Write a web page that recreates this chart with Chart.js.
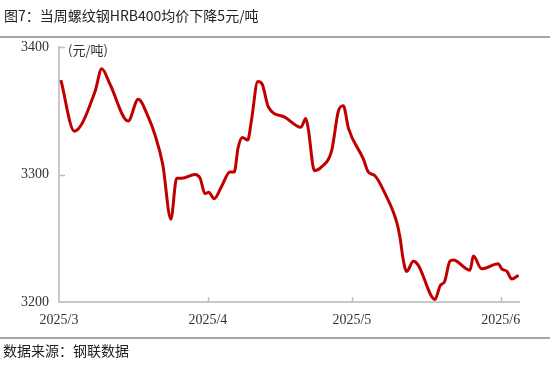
<!DOCTYPE html>
<html>
<head>
<meta charset="utf-8">
<script src="https://cdn.jsdelivr.net/npm/chart.js@4/dist/chart.umd.min.js"></script>
<style>
  html, body { margin: 0; padding: 0; background: #fff; }
  #wrap { position: relative; width: 550px; height: 367px; overflow: hidden; }
  #title { position: absolute; left: 4px; top: 6px; font: 14px "Noto Sans CJK SC", sans-serif; color: #222; line-height: 18px; white-space: nowrap; }
  .rule { position: absolute; left: 0; width: 550px; height: 2px; background: #a6a6a6; }
  #unit { position: absolute; left: 68px; top: 42px; font: 13px "Noto Sans CJK SC", sans-serif; color: #333; line-height: 16px; white-space: nowrap; }
  #source { position: absolute; left: 3px; top: 341px; font: 14px "Noto Sans CJK SC", sans-serif; color: #222; line-height: 18px; white-space: nowrap; }
  canvas { position: absolute; left: 0; top: 0; }
</style>
</head>
<body>
<div id="wrap">
  <canvas id="c" width="550" height="367"></canvas>
  <div id="title">图7：当周螺纹钢HRB400均价下降5元/吨</div>
  <div class="rule" style="top:36px"></div>
  <div id="unit">(元/吨)</div>
  <div class="rule" style="top:337px"></div>
  <div id="source">数据来源：钢联数据</div>
</div>
<script>
// Day offsets from 2025/3/1 and weekly-average rebar price (元/吨)
const days = [0.4, 3.2, 7.5, 8.9, 10.6, 14.4, 16.5, 18.6, 20.0, 21.6, 23.3, 24.5, 25.6, 28.3, 29.4, 30.4, 31.2, 32.3, 33.9, 35.6, 36.5, 37.3, 38.2, 39.3, 40.1, 41.4, 42.3, 43.6, 47.0, 50.4, 51.4, 51.9, 53.2, 54.7, 56.8, 58.2, 59.2, 60.3, 63.4, 64.4, 65.8, 67.9, 70.3, 71.0, 71.7, 72.4, 73.8, 74.8, 78.3, 79.4, 80.3, 81.4, 82.1, 85.6, 86.3, 88.0, 91.5, 92.2, 93.3, 94.3, 95.7];
const prices = [3374, 3334, 3365, 3383, 3371, 3342, 3359, 3345, 3331, 3308, 3265, 3297, 3297, 3300, 3297, 3285, 3286, 3281, 3291, 3302, 3302, 3321, 3329, 3327, 3343, 3373, 3371, 3353, 3345, 3337, 3344, 3336, 3303, 3306, 3319, 3350, 3354, 3336, 3312, 3302, 3299, 3285, 3263, 3251, 3233, 3224, 3232, 3229, 3202, 3213, 3216, 3232, 3233, 3225, 3236, 3226, 3230, 3226, 3224, 3218, 3221];
const tickDays = [0, 31, 61, 92];
const tickLabels = ['2025/3', '2025/4', '2025/5', '2025/6'];
const yTicks = [3200, 3300, 3400];

const points = days.map((d, i) => ({ x: d, y: prices[i] }));

const innerTicks = {
  id: 'innerTicks',
  afterDraw(chart) {
    const ctx = chart.ctx, xs = chart.scales.x, ys = chart.scales.y;
    ctx.save();
    ctx.strokeStyle = '#bdbdbd';
    ctx.lineWidth = 1.5;
    ctx.beginPath();
    tickDays.forEach(d => {
      if (d === tickDays[0]) return;
      const px = Math.round(xs.getPixelForValue(d)) + 0.5;
      ctx.moveTo(px, ys.bottom);
      ctx.lineTo(px, ys.bottom - 5);
    });
    yTicks.slice(1).forEach(v => {
      const py = Math.round(ys.getPixelForValue(v)) + 0.5;
      ctx.moveTo(xs.left, py);
      ctx.lineTo(xs.left + 6, py);
    });
    ctx.stroke();
    ctx.restore();
  }
};

new Chart(document.getElementById('c'), {
  type: 'line',
  data: {
    datasets: [{
      data: points,
      borderColor: '#C00000',
      borderWidth: 3,
      pointRadius: 0,
      fill: false,
      cubicInterpolationMode: 'monotone'
    }]
  },
  options: {
    responsive: false,
    devicePixelRatio: 1,
    animation: false,
    layout: { padding: { left: 0, right: 31, top: 47, bottom: 0 } },
    plugins: { legend: { display: false }, tooltip: { enabled: false } },
    scales: {
      x: {
        type: 'linear',
        min: 0,
        max: 95.8,
        afterFit: s => { s.height = 65; },
        afterBuildTicks: s => { s.ticks = tickDays.map(v => ({ value: v })); },
        grid: { drawOnChartArea: false, drawTicks: false },
        border: { display: true, color: '#c8c8c8', width: 2 },
        ticks: {
          autoSkip: false,
          maxRotation: 0,
          padding: 10,
          color: '#333',
          font: { family: '"Liberation Serif", serif', size: 14 },
          callback: v => { const i = tickDays.indexOf(v); return i >= 0 ? tickLabels[i] : ''; }
        }
      },
      y: {
        min: 3200,
        max: 3400,
        afterFit: s => { s.width = 59; },
        afterBuildTicks: s => { s.ticks = yTicks.map(v => ({ value: v })); },
        grid: { drawOnChartArea: false, drawTicks: false },
        border: { display: true, color: '#c8c8c8', width: 2 },
        ticks: {
          padding: 10,
          color: '#333',
          font: { family: '"Liberation Serif", serif', size: 14 },
          callback: v => String(v)
        }
      }
    }
  },
  plugins: [innerTicks]
});
</script>
</body>
</html>
